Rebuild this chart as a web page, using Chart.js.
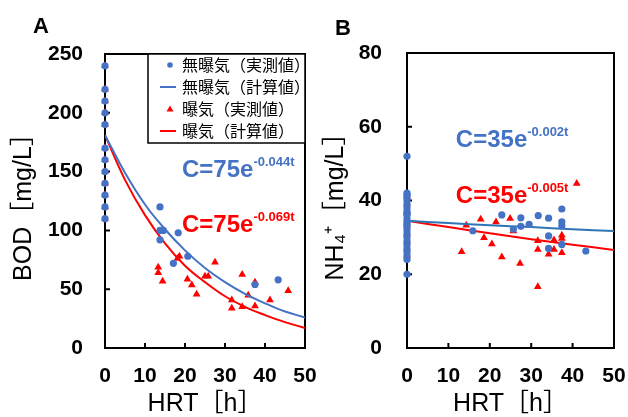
<!DOCTYPE html>
<html>
<head>
<meta charset="utf-8">
<script src="https://cdn.jsdelivr.net/npm/chart.js@4.4.1/dist/chart.umd.min.js"></script>
<style>
  html, body { margin: 0; padding: 0; background: #fff; }
  #wrapA { position: absolute; left: 0; top: 0; width: 318px; height: 417px; }
  #wrapB { position: absolute; left: 318px; top: 0; width: 310px; height: 417px; }
</style>
</head>
<body>
<div id="wrapA"><canvas id="chartA"></canvas></div>
<div id="wrapB"><canvas id="chartB"></canvas></div>
<script>
// ---- panel A : BOD ----
var hrtA_noAir = [0, 0, 0, 0, 0, 0, 0, 0, 0, 0, 0, 0, 13.75, 13.75, 14.6, 13.75, 18.3, 20.7, 17.1, 37.5, 43.3]
var bodA_noAir = [240, 220, 210, 200, 190, 170, 160, 150, 140, 130, 120, 110, 120, 100, 100, 92, 98, 78, 72, 54, 58]
var hrtA_air = [0, 0, 0, 0, 0, 0, 0, 0, 0, 0, 0, 0,
  13.3, 13.3, 14.4, 18.6, 18.1, 20.6, 21.7, 22.9, 25, 25.8, 27.5, 31.7, 31.7, 34.3, 34.3, 35.8, 37.5, 37.5, 41.25, 45.8]
var bodA_air = [240, 220, 210, 200, 190, 170, 160, 150, 140, 130, 120, 110,
  68.6, 64, 56.7, 78, 76, 58.4, 53.6, 45.6, 61, 61, 73, 40.8, 33.7, 62.6, 35, 44.8, 35.7, 56, 40.8, 48.7]
// calculated curves
var hrtA_calc = [0, 5, 10, 15, 20, 25, 30, 35, 40, 45, 50]
var bodA_calcNoAir = [181, 149, 122, 101, 83, 68, 56, 46, 38, 31, 26]
var bodA_calcAir = [181, 143, 113, 89, 70, 56, 44, 35, 28, 22, 17]

// ---- panel B : NH4+ ----
var hrtB_noAir = [0, 0, 0, 0, 0, 0, 0, 0, 0, 0, 0, 0, 0, 0, 0, 0, 0, 0, 0, 0, 0, 0, 0, 0,
  15.9, 22.9, 25.7, 27.5, 27.5, 29.5, 31.7, 34.2, 34.2, 34.2, 37.4, 37.4, 37.4, 37.4, 43.2]
var nhB_noAir = [52, 42, 41.5, 41, 40, 39, 38, 37, 36.5, 36, 35, 34, 33.5, 33, 32, 31, 30, 29, 28, 27, 26, 25, 24, 20,
  31.8, 36.1, 32.2, 35.3, 33, 33.5, 35.9, 35.2, 30.4, 27, 37.7, 34.2, 33.1, 28.1, 26.3]
var hrtB_air = [0, 0, 0, 0, 0, 0, 0, 0, 0,
  13.2, 14.3, 17.8, 18.6, 20.5, 21.5, 22.9, 24.9, 25.7, 27.3, 31.6, 31.6, 31.6, 34.2, 35.5, 35.5, 37.4, 37.4, 37.4, 41]
var nhB_air = [41, 39, 37, 35, 33, 31, 29, 27, 25,
  26.1, 33.3, 34.9, 29.9, 28.2, 34.2, 24.7, 35.1, 31.7, 22.9, 29.1, 26.7, 16.6, 25.4, 29.3, 26.7, 30.6, 29.7, 25.8, 44.6]
var hrtB_calc = [0, 10, 20, 30, 40, 50]
var nhB_calcNoAir = [34.5, 33.9, 33.3, 32.8, 32.2, 31.7]
var nhB_calcAir = [34.5, 32.8, 31.1, 29.5, 28.0, 26.6]

var seriesNames = ['無曝気（実測値）', '無曝気（計算値）', '曝気（実測値）', '曝気（計算値）']
var BLUE = '#4472C4'
var RED = '#FF0000'

function pts(xs, ys) {
  return xs.map(function (x, i) { return { x: x, y: ys[i] } })
}

Chart.defaults.font.family = "'Liberation Sans', 'Noto Sans CJK JP', Arial, sans-serif"
Chart.defaults.color = '#000'

// frame, inward ticks, legend box, equations, panel letter
var decoPlugin = {
  id: 'deco',
  beforeDatasetsDraw: function (chart) {
    var ctx = chart.ctx, a = chart.chartArea
    var xs = chart.scales.x, ys = chart.scales.y
    ctx.save()
    ctx.strokeStyle = '#000'
    ctx.lineWidth = 2
    ctx.strokeRect(a.left, a.top, a.right - a.left, a.bottom - a.top)
    ctx.beginPath()
    xs.ticks.forEach(function (t) {
      var px = xs.getPixelForValue(t.value)
      ctx.moveTo(px, a.bottom); ctx.lineTo(px, a.bottom - 5)
    })
    ys.ticks.forEach(function (t) {
      var py = ys.getPixelForValue(t.value)
      ctx.moveTo(a.left, py); ctx.lineTo(a.left + 5, py)
    })
    ctx.stroke()
    ctx.restore()
  },
  afterDraw: function (chart, args, opts) {
    var ctx = chart.ctx, a = chart.chartArea
    var xs = chart.scales.x, ys = chart.scales.y
    ctx.save()
    // panel letter
    ctx.fillStyle = '#000'
    ctx.font = "bold 22px 'Liberation Sans', Arial, sans-serif"
    ctx.textBaseline = 'alphabetic'
    ctx.fillText(opts.letter, opts.letterX, opts.letterY)

    // equations
    ;(opts.notes || []).forEach(function (n) {
      var px = xs.getPixelForValue(n.x), py = ys.getPixelForValue(n.y)
      ctx.fillStyle = n.color
      ctx.font = "bold 24px 'Liberation Sans', Arial, sans-serif"
      ctx.fillText(n.base, px, py)
      var w = ctx.measureText(n.base).width
      ctx.font = "bold 13px 'Liberation Sans', Arial, sans-serif"
      ctx.fillText(n.sup, px + w, py - 11)
    })

    // legend
    if (opts.legendBox) {
      var lb = opts.legendBox
      ctx.fillStyle = '#fff'
      ctx.fillRect(lb.left, a.top, a.right - lb.left, lb.bottom - a.top)
      ctx.strokeStyle = '#000'
      ctx.lineWidth = 1.5
      ctx.strokeRect(lb.left, a.top, a.right - lb.left, lb.bottom - a.top)
      ctx.font = "16px 'Noto Sans CJK JP', sans-serif"
      ctx.textBaseline = 'middle'
      chart.data.datasets.forEach(function (ds, i) {
        var y = lb.firstRow + i * lb.rowGap
        if (ds.showLine) {
          ctx.strokeStyle = ds.borderColor
          ctx.lineWidth = 2
          ctx.beginPath(); ctx.moveTo(lb.markX - 10, y); ctx.lineTo(lb.markX + 6, y); ctx.stroke()
        } else {
          ctx.fillStyle = ds.backgroundColor
          ctx.beginPath()
          if (ds.pointStyle === 'triangle') {
            ctx.moveTo(lb.markX, y - 3.5); ctx.lineTo(lb.markX + 3.5, y + 2.5); ctx.lineTo(lb.markX - 3.5, y + 2.5)
          } else {
            ctx.arc(lb.markX, y, 2.8, 0, Math.PI * 2)
          }
          ctx.fill()
        }
        ctx.fillStyle = '#000'
        ctx.fillText(ds.label, lb.textX, y)
      })
    }
    ctx.restore()
  }
}

function makeChart(id, cfg) {
  return new Chart(document.getElementById(id).getContext('2d'), {
    type: 'scatter',
    data: {
      datasets: [
        {
          label: seriesNames[0], data: cfg.noAir, pointStyle: 'circle', pointRadius: 3.6,
          backgroundColor: BLUE, borderColor: BLUE, borderWidth: 0, order: 0, clip: 8
        },
        {
          label: seriesNames[1], data: cfg.calcNoAir, showLine: true, pointRadius: 0, tension: 0.4,
          borderColor: cfg.lineBlue, backgroundColor: cfg.lineBlue, borderWidth: 2, order: 1
        },
        {
          label: seriesNames[2], data: cfg.air, pointStyle: 'triangle', pointRadius: 4.5,
          backgroundColor: RED, borderColor: RED, borderWidth: 0, order: 3, clip: 8
        },
        {
          label: seriesNames[3], data: cfg.calcAir, showLine: true, pointRadius: 0, tension: 0.4,
          borderColor: RED, backgroundColor: RED, borderWidth: 2, order: 2
        }
      ]
    },
    options: {
      responsive: true,
      maintainAspectRatio: false,
      animation: false,
      layout: { padding: cfg.padding },
      plugins: {
        legend: { display: false },
        tooltip: { enabled: false },
        deco: cfg.deco
      },
      scales: {
        x: {
          type: 'linear', min: 0, max: 50,
          grid: { display: false, drawTicks: false },
          border: { display: false },
          ticks: { stepSize: 10, padding: 16, font: { size: 21, weight: 'bold' } },
          title: { display: true, text: 'HRT［h］', font: { size: 25, lineHeight: 1 }, padding: { top: 0, bottom: 0 } },
          afterFit: function (s) { s.height = cfg.xHeight; s.paddingLeft = 0; s.paddingRight = 0 }
        },
        y: {
          type: 'linear', min: 0, max: cfg.yMax,
          grid: { display: false, drawTicks: false },
          border: { display: false },
          ticks: { stepSize: cfg.yStep, padding: cfg.yPad, font: { size: 21, weight: 'bold' } },
          title: { display: true, text: cfg.yTitle, font: { size: 25, lineHeight: 1 }, padding: { top: cfg.yTitlePad, bottom: 0 } },
          afterFit: function (s) { s.width = cfg.yWidth; s.paddingTop = 0; s.paddingBottom = 0 }
        }
      }
    },
    plugins: [decoPlugin]
  })
}

makeChart('chartA', {
  noAir: pts(hrtA_noAir, bodA_noAir),
  air: pts(hrtA_air, bodA_air),
  calcNoAir: pts(hrtA_calc, bodA_calcNoAir),
  calcAir: pts(hrtA_calc, bodA_calcAir),
  lineBlue: BLUE,
  yMax: 250, yStep: 50, yPad: 22, yWidth: 105, xHeight: 69,
  yTitle: 'BOD［mg/L］', yTitlePad: 12,
  padding: { left: 0, top: 54, right: 13, bottom: 0 },
  deco: {
    letter: 'A', letterX: 33, letterY: 33,
    notes: [
      { x: 19.25, y: 145.4, base: 'C=75e', sup: '-0.044t', color: BLUE },
      { x: 19.25, y: 98.6, base: 'C=75e', sup: '-0.069t', color: RED }
    ],
    legendBox: { left: 148, bottom: 143, firstRow: 65, rowGap: 22, markX: 170, textX: 182 }
  }
})

makeChart('chartB', {
  noAir: pts(hrtB_noAir, nhB_noAir),
  air: pts(hrtB_air, nhB_air),
  calcNoAir: pts(hrtB_calc, nhB_calcNoAir),
  calcAir: pts(hrtB_calc, nhB_calcAir),
  lineBlue: '#2E75B6',
  yMax: 80, yStep: 20, yPad: 25, yWidth: 89, xHeight: 69,
  yTitle: 'NH₄⁺［mg/L］', yTitlePad: 6,
  padding: { left: 0, top: 53, right: 14, bottom: 0 },
  deco: {
    letter: 'B', letterX: 17, letterY: 35,
    notes: [
      { x: 11.8, y: 54.5, base: 'C=35e', sup: '-0.002t', color: BLUE },
      { x: 11.8, y: 39.3, base: 'C=35e', sup: '-0.005t', color: RED }
    ]
  }
})
</script>
</body>
</html>
